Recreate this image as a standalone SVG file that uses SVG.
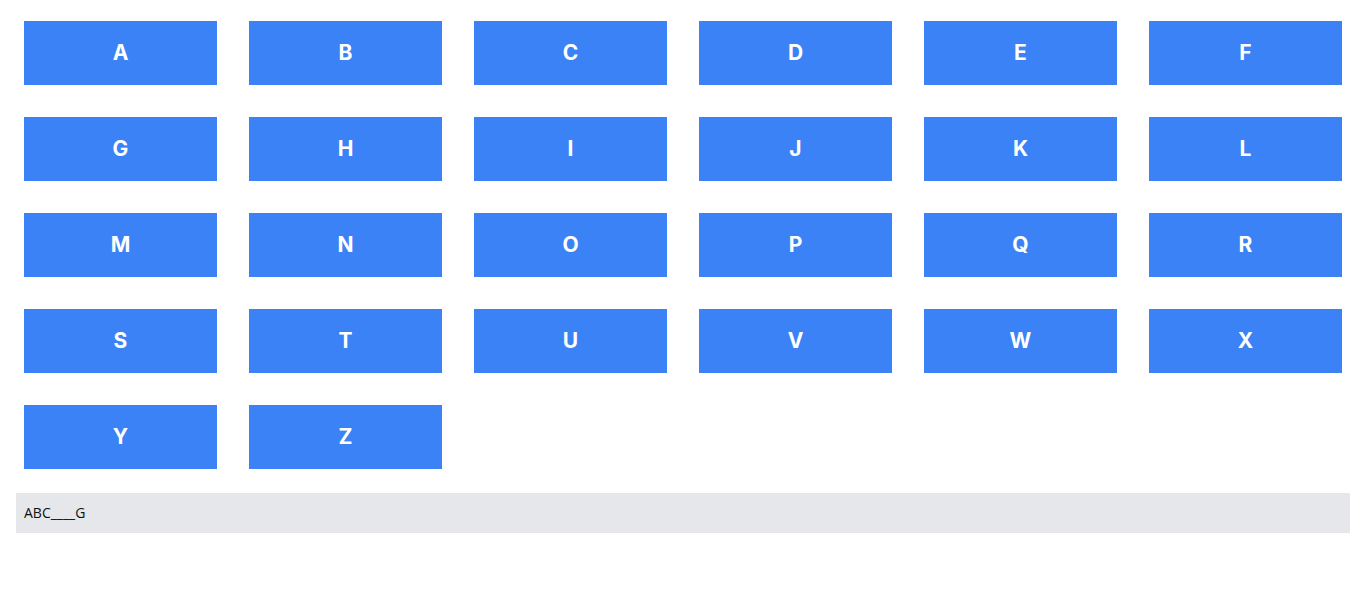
<svg xmlns="http://www.w3.org/2000/svg" width="1360" height="592" viewBox="0 0 1360 592">
<style>
.box{fill:#3b82f6}
.lbl{fill:#ffffff;font-family:Inter,"Noto Sans",sans-serif;font-weight:700;font-size:21px;text-anchor:middle;dominant-baseline:central}
.bar{fill:#e5e7eb}
.bt{fill:#111111;font-family:"Open Sans","Noto Sans",sans-serif;font-size:14px}
</style>
<rect width="1360" height="592" fill="#ffffff"/>
<g id="node-A"><rect class="box" x="24" y="21" width="193" height="64"/><text class="lbl" x="120.5" y="52">A</text></g>
<g id="node-B"><rect class="box" x="249" y="21" width="193" height="64"/><text class="lbl" x="345.5" y="52">B</text></g>
<g id="node-C"><rect class="box" x="474" y="21" width="193" height="64"/><text class="lbl" x="570.5" y="52">C</text></g>
<g id="node-D"><rect class="box" x="699" y="21" width="193" height="64"/><text class="lbl" x="795.5" y="52">D</text></g>
<g id="node-E"><rect class="box" x="924" y="21" width="193" height="64"/><text class="lbl" x="1020.5" y="52">E</text></g>
<g id="node-F"><rect class="box" x="1149" y="21" width="193" height="64"/><text class="lbl" x="1245.5" y="52">F</text></g>
<g id="node-G"><rect class="box" x="24" y="117" width="193" height="64"/><text class="lbl" x="120.5" y="148">G</text></g>
<g id="node-H"><rect class="box" x="249" y="117" width="193" height="64"/><text class="lbl" x="345.5" y="148">H</text></g>
<g id="node-I"><rect class="box" x="474" y="117" width="193" height="64"/><text class="lbl" x="570.5" y="148">I</text></g>
<g id="node-J"><rect class="box" x="699" y="117" width="193" height="64"/><text class="lbl" x="795.5" y="148">J</text></g>
<g id="node-K"><rect class="box" x="924" y="117" width="193" height="64"/><text class="lbl" x="1020.5" y="148">K</text></g>
<g id="node-L"><rect class="box" x="1149" y="117" width="193" height="64"/><text class="lbl" x="1245.5" y="148">L</text></g>
<g id="node-M"><rect class="box" x="24" y="213" width="193" height="64"/><text class="lbl" x="120.5" y="244">M</text></g>
<g id="node-N"><rect class="box" x="249" y="213" width="193" height="64"/><text class="lbl" x="345.5" y="244">N</text></g>
<g id="node-O"><rect class="box" x="474" y="213" width="193" height="64"/><text class="lbl" x="570.5" y="244">O</text></g>
<g id="node-P"><rect class="box" x="699" y="213" width="193" height="64"/><text class="lbl" x="795.5" y="244">P</text></g>
<g id="node-Q"><rect class="box" x="924" y="213" width="193" height="64"/><text class="lbl" x="1020.5" y="244">Q</text></g>
<g id="node-R"><rect class="box" x="1149" y="213" width="193" height="64"/><text class="lbl" x="1245.5" y="244">R</text></g>
<g id="node-S"><rect class="box" x="24" y="309" width="193" height="64"/><text class="lbl" x="120.5" y="340">S</text></g>
<g id="node-T"><rect class="box" x="249" y="309" width="193" height="64"/><text class="lbl" x="345.5" y="340">T</text></g>
<g id="node-U"><rect class="box" x="474" y="309" width="193" height="64"/><text class="lbl" x="570.5" y="340">U</text></g>
<g id="node-V"><rect class="box" x="699" y="309" width="193" height="64"/><text class="lbl" x="795.5" y="340">V</text></g>
<g id="node-W"><rect class="box" x="924" y="309" width="193" height="64"/><text class="lbl" x="1020.5" y="340">W</text></g>
<g id="node-X"><rect class="box" x="1149" y="309" width="193" height="64"/><text class="lbl" x="1245.5" y="340">X</text></g>
<g id="node-Y"><rect class="box" x="24" y="405" width="193" height="64"/><text class="lbl" x="120.5" y="436">Y</text></g>
<g id="node-Z"><rect class="box" x="249" y="405" width="193" height="64"/><text class="lbl" x="345.5" y="436">Z</text></g>
<g id="connectors"></g>
<g id="status-bar"><rect class="bar" x="16" y="493" width="1334" height="40"/><text class="bt" x="24" y="518">ABC____G</text></g>
</svg>
